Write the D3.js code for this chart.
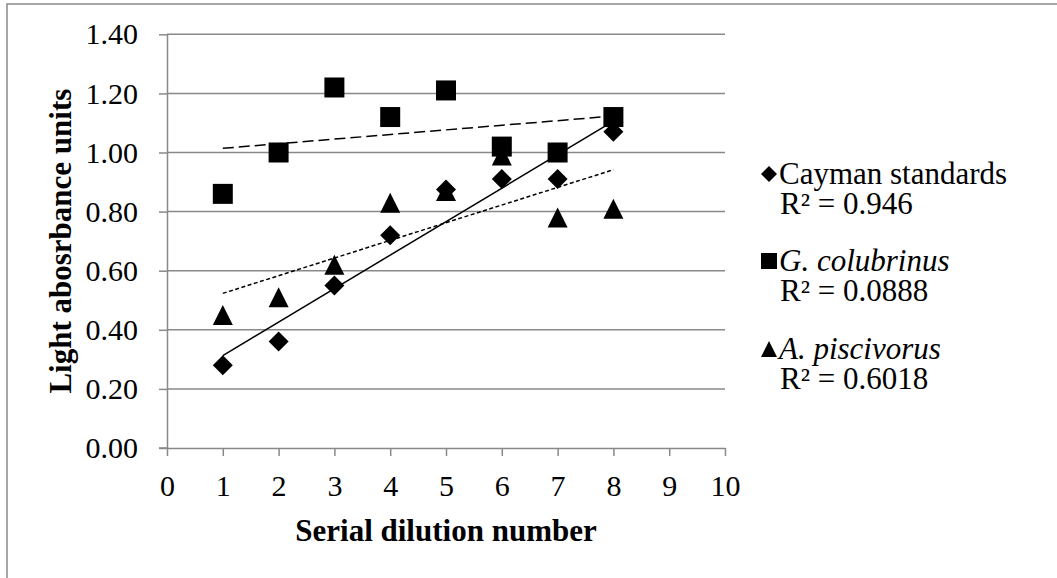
<!DOCTYPE html>
<html lang="en">
<head>
    <meta charset="UTF-8">
    <title>Light absorbance</title>
    <style>
        * {
            margin: 0;
            padding: 0;
        }
        body {
            background: #ffffff;
        }
        svg {
            display: block;
            font-family: "Liberation Serif", "Times New Roman", serif;
        }
        .grid line {
            stroke: #898989;
            stroke-width: 1.5;
        }
    </style>
    <script src="https://cdn.jsdelivr.net/npm/d3@7"></script>
</head>
<body>
    <div id="svgBox"></div>
    <script>
        // DATA
        var dilution = [1, 2, 3, 4, 5, 6, 7, 8];
        var cayman = [0.28, 0.36, 0.55, 0.72, 0.875, 0.91, 0.91, 1.07];
        var colubrinus = [0.86, 1.00, 1.22, 1.12, 1.21, 1.02, 1.00, 1.12];
        var piscivorus = [0.45, 0.51, 0.62, 0.83, 0.87, 0.99, 0.78, 0.81];
        var seriesNames = ['Cayman standards', 'G. colubrinus', 'A. piscivorus'];
        var rSquared = ['R² = 0.946', 'R² = 0.0888', 'R² = 0.6018'];
        var yTicks = [0, 0.2, 0.4, 0.6, 0.8, 1.0, 1.2, 1.4];
        var xTicks = [0, 1, 2, 3, 4, 5, 6, 7, 8, 9, 10];

        var w = 1057,
            h = 578,
            plotLeft = 167,
            plotRight = 725,
            plotTop = 34.3,
            plotBottom = 448,
            fontSize = 31,
            svg = d3.select('#svgBox')
                .append('svg')
                .attr('width', w)
                .attr('height', h);

        // outer chart frame (right / bottom are cut off in the picture)
        svg.append('rect')
            .attr('x', 7)
            .attr('y', 4)
            .attr('width', 1200)
            .attr('height', 800)
            .attr('fill', 'none')
            .attr('stroke', '#898989')
            .attr('stroke-width', 1.5);

        var xScale = d3.scaleLinear().domain([0, 10]).range([plotLeft, plotRight]);
        var yScale = d3.scaleLinear().domain([0, 1.4]).range([plotBottom, plotTop]);

        // GRIDLINES
        svg.append('g')
            .attr('class', 'grid')
            .selectAll('line')
            .data(yTicks.slice(1))
            .enter()
            .append('line')
            .attr('x1', plotLeft)
            .attr('x2', plotRight)
            .attr('y1', (d) => yScale(d))
            .attr('y2', (d) => yScale(d));

        // Y-AXIS
        var yAxis = d3.axisLeft(yScale)
            .tickValues(yTicks)
            .tickFormat(d3.format('.2f'))
            .tickSizeInner(8)
            .tickSizeOuter(0)
            .tickPadding(21);
        var gy = svg.append('g')
            .attr('transform', 'translate(' + plotLeft + ',0)')
            .call(yAxis)
            .attr('id', 'y-axis');

        // X-AXIS
        var xAxis = d3.axisBottom(xScale)
            .tickValues(xTicks)
            .tickFormat(d3.format('d'))
            .tickSizeInner(8)
            .tickSizeOuter(0)
            .tickPadding(19);
        var gx = svg.append('g')
            .attr('transform', 'translate(0,' + plotBottom + ')')
            .call(xAxis)
            .attr('id', 'x-axis');

        [gx, gy].forEach((g) => {
            g.attr('font-size', 30).attr('font-family', null);
            g.select('.domain').attr('stroke', '#898989').attr('stroke-width', 1.5);
            g.selectAll('.tick line').attr('stroke', '#898989').attr('stroke-width', 1.5);
            g.selectAll('.tick text').attr('fill', '#000');
        });
        // small cross at the origin
        svg.append('line')
            .attr('x1', plotLeft - 8).attr('x2', plotLeft)
            .attr('y1', plotBottom).attr('y2', plotBottom)
            .attr('stroke', '#898989').attr('stroke-width', 1.5);

        // AXIS TITLES
        svg.append('text')
            .attr('transform', 'translate(71,' + (plotTop + plotBottom) / 2 + ') rotate(-90)')
            .attr('text-anchor', 'middle')
            .style('font-size', fontSize + 'px')
            .style('font-weight', 'bold')
            .text('Light abosrbance units');

        svg.append('text')
            .attr('x', (plotLeft + plotRight) / 2)
            .attr('y', 541)
            .attr('text-anchor', 'middle')
            .style('font-size', fontSize + 'px')
            .style('font-weight', 'bold')
            .text('Serial dilution number');

        // TRENDLINES (least squares over the points)
        function fit(ys) {
            var mx = d3.mean(dilution), my = d3.mean(ys);
            var sxy = d3.sum(dilution, (x, i) => (x - mx) * (ys[i] - my));
            var sxx = d3.sum(dilution, (x) => (x - mx) * (x - mx));
            var b = sxy / sxx;
            return [b, my - b * mx];
        }
        var series = [
            { values: cayman, symbol: 'diamond', dash: null },
            { values: colubrinus, symbol: 'square', dash: '11,5' },
            { values: piscivorus, symbol: 'triangle', dash: '4,2.5' }
        ];

        series.forEach((s) => {
            var f = fit(s.values);
            var x0 = d3.min(dilution), x1 = d3.max(dilution);
            svg.append('line')
                .attr('x1', xScale(x0))
                .attr('y1', yScale(f[1] + f[0] * x0))
                .attr('x2', xScale(x1))
                .attr('y2', yScale(f[1] + f[0] * x1))
                .attr('stroke', '#000')
                .attr('stroke-width', 1.5)
                .attr('stroke-dasharray', s.dash);
        });

        // marker shapes, sized by their bounding box
        function marker(type, size) {
            var r = size / 2;
            if (type === 'diamond') {
                return 'M0,' + (-r) + 'L' + r + ',0L0,' + r + 'L' + (-r) + ',0Z';
            }
            if (type === 'triangle') {
                return 'M0,' + (-r) + 'L' + r + ',' + r + 'L' + (-r) + ',' + r + 'Z';
            }
            return d3.symbol().type(d3.symbolSquare).size(size * size)();
        }

        // DOTS
        series.forEach((s) => {
            svg.append('g')
                .selectAll('path')
                .data(s.values)
                .enter()
                .append('path')
                .attr('d', marker(s.symbol, 20))
                .attr('transform', (d, i) => 'translate(' + xScale(dilution[i]) + ',' + yScale(d) + ')')
                .attr('fill', '#000');
        });

        // LEGEND
        var legendBase = [184, 271, 359];
        var legend = svg.append('g').attr('id', 'legend');
        series.forEach((s, i) => {
            legend.append('path')
                .attr('d', marker(s.symbol, 16))
                .attr('transform', 'translate(769,' + (legendBase[i] - 10) + ')')
                .attr('fill', '#000');
            legend.append('text')
                .attr('x', 779)
                .attr('y', legendBase[i])
                .style('font-size', fontSize + 'px')
                .style('font-style', i === 0 ? 'normal' : 'italic')
                .text(seriesNames[i]);
            legend.append('text')
                .attr('x', 780)
                .attr('y', legendBase[i] + 30)
                .style('font-size', fontSize + 'px')
                .text(rSquared[i]);
        });
    </script>
</body>
</html>
